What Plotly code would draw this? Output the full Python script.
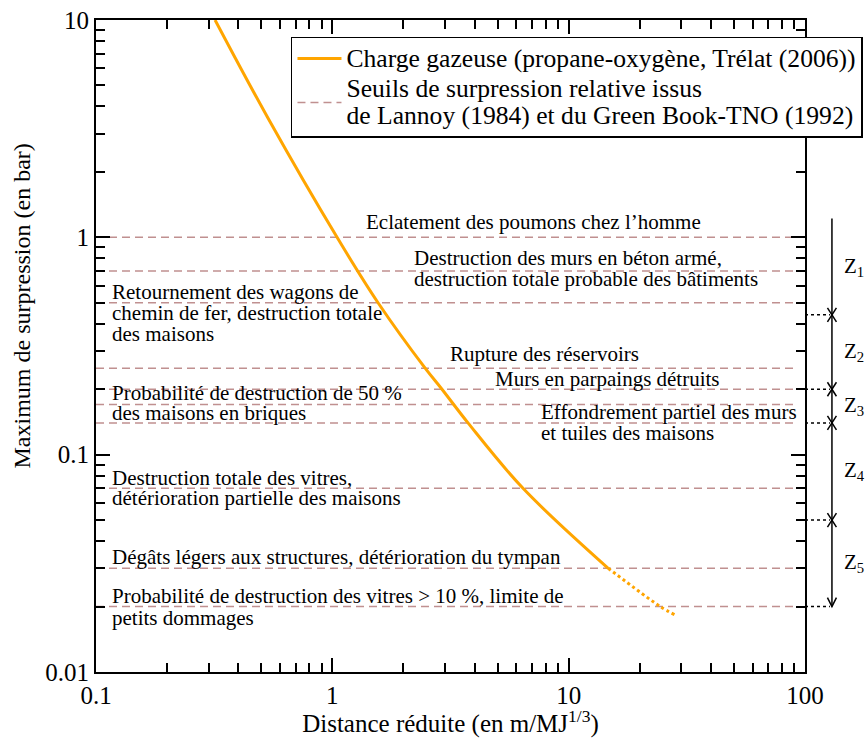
import numpy as np
import plotly.graph_objects as go

# ---------------- data ----------------
curve_x = [0.319, 0.534, 1.047, 1.561, 2.47, 2.91, 3.75, 6.41, 14.7]
curve_y = [10.0, 3.54, 1.0, 0.5, 0.25, 0.2, 0.14, 0.07, 0.03]
extrap_x = [14.7, 24.4, 28.2]
extrap_y = [0.03, 0.02, 0.0183]

thresholds = [1.0, 0.7, 0.5, 0.25, 0.2, 0.17, 0.14, 0.07, 0.03, 0.02]
threshold_x_span = [0.1, 90.0]

zone_bounds = [1.22, 0.44, 0.2, 0.14, 0.05, 0.02]
zone_names = ["Z<sub>1</sub>", "Z<sub>2</sub>", "Z<sub>3</sub>", "Z<sub>4</sub>", "Z<sub>5</sub>"]

x_tickvals = [0.1, 1, 10, 100]
x_ticktext = ["0.1", "1", "10", "100"]
y_tickvals = [0.01, 0.1, 1, 10]
y_ticktext = ["0.01", "0.1", "1", "10"]

legend_curve = "Charge gazeuse (propane-oxygène, Trélat (2006))"
legend_thresholds = ["Seuils de surpression relative issus",
                     "de Lannoy (1984) et du Green Book-TNO (1992)"]

# label lines: (threshold, x anchor value, text, vertical shift in px)
label_lines = [
    (1.0, 1.362, "Eclatement des poumons chez l’homme", 15),
    (0.7, 2.175, "Destruction des murs en béton armé,", 13),
    (0.7, 2.175, "destruction totale probable des bâtiments", -8),
    (0.5, 0.1146, "Retournement des wagons de", 11),
    (0.5, 0.1146, "chemin de fer, destruction totale", -10),
    (0.5, 0.1146, "des maisons", -31),
    (0.25, 3.09, "Rupture des réservoirs", 14),
    (0.2, 4.79, "Murs en parpaings détruits", 10),
    (0.17, 0.1146, "Probabilité de destruction de 50 %", 12),
    (0.17, 0.1146, "des maisons en briques", -8),
    (0.14, 7.49, "Effondrement partiel des murs", 11),
    (0.14, 7.49, "et tuiles des maisons", -10),
    (0.07, 0.1146, "Destruction totale des vitres,", 10),
    (0.07, 0.1146, "détérioration partielle des maisons", -10),
    (0.03, 0.1146, "Dégâts légers aux structures, détérioration du tympan", 11),
    (0.02, 0.1146, "Probabilité de destruction des vitres > 10 %, limite de", 11),
    (0.02, 0.1146, "petits dommages", -11),
]

FONT = "Liberation Serif"
ORANGE = "#ffa500"
DASHCOL = "#c09090"

def big(s):
    return f"<span style='font-size:25.6px'>{s}</span>"

fig = go.Figure()

# threshold lines
hx, hy = [], []
for t in thresholds:
    hx += [threshold_x_span[0], threshold_x_span[1], None]
    hy += [t, t, None]
fig.add_trace(go.Scatter(
    x=hx, y=hy, mode="lines",
    line=dict(color=DASHCOL, width=1.5, dash="8px,5px"),
    name="<br>".join(big(s) for s in legend_thresholds),
    legendrank=2,
))

fig.add_trace(go.Scatter(
    x=curve_x, y=curve_y, mode="lines",
    line=dict(color=ORANGE, width=3, shape="spline", smoothing=1.0),
    name=big(legend_curve),
    legendrank=1,
))
fig.add_trace(go.Scatter(
    x=extrap_x, y=extrap_y, mode="lines",
    line=dict(color=ORANGE, width=3, dash="dot", shape="spline", smoothing=0.8),
    showlegend=False,
))

annotations = []
for t, xv, txt, sh in label_lines:
    annotations.append(dict(
        x=np.log10(xv), y=np.log10(t), xref="x", yref="y",
        text=txt, showarrow=False, xanchor="left", yanchor="middle",
        yshift=sh, font=dict(family=FONT, size=21, color="black"),
    ))

# y-axis title
annotations.append(dict(
    x=-0.104, y=0.561, xref="paper", yref="paper", text="Maximum de surpression (en bar)",
    textangle=-90, showarrow=False, xanchor="center", yanchor="middle",
    font=dict(family=FONT, size=24, color="black"),
))

# zone scale on the right (paper coords)
PX = 1 / 709.0
PY = 1 / 652.0
def yp(v):
    return (np.log10(v) + 2) / 3.0
xa = 1.038
shapes = []
blk = dict(color="black", width=1.5)
shapes.append(dict(type="line", xref="paper", yref="paper",
                   x0=xa, x1=xa, y0=yp(zone_bounds[0]), y1=yp(zone_bounds[-1]), line=blk))
for b in zone_bounds[1:]:
    yb = yp(b)
    shapes.append(dict(type="line", xref="paper", yref="paper", x0=1.0, x1=xa - 2 * PX,
                       y0=yb, y1=yb, line=dict(color="black", width=1.5, dash="dot")))
for b in zone_bounds[1:-1]:
    yb = yp(b)
    shapes.append(dict(type="line", xref="paper", yref="paper",
                       x0=xa - 4.5 * PX, x1=xa + 4.5 * PX, y0=yb + 7 * PY, y1=yb - 7 * PY, line=blk))
    shapes.append(dict(type="line", xref="paper", yref="paper",
                       x0=xa - 4.5 * PX, x1=xa + 4.5 * PX, y0=yb - 7 * PY, y1=yb + 7 * PY, line=blk))
yb = yp(zone_bounds[-1])
shapes.append(dict(type="path", xref="paper", yref="paper",
                   path=f"M {xa - 4.5 * PX},{yb + 9 * PY} L {xa},{yb} L {xa + 4.5 * PX},{yb + 9 * PY}",
                   line=blk))

for i, name in enumerate(zone_names):
    ymid = (yp(zone_bounds[i]) + yp(zone_bounds[i + 1])) / 2
    annotations.append(dict(
        x=1.052, y=ymid, xref="paper", yref="paper", text=name, showarrow=False,
        xanchor="left", yanchor="middle", font=dict(family=FONT, size=21, color="black"),
    ))

minor_x = [k * 10.0 ** e for e in range(-1, 2) for k in range(2, 10)]
minor_y = [k * 10.0 ** e for e in range(-2, 1) for k in range(2, 10)]

axis_common = dict(
    type="log", showgrid=False, zeroline=False, showline=True,
    linecolor="black", linewidth=2, mirror="allticks",
    ticks="inside", ticklen=14, tickwidth=1.5, tickcolor="black",
    tickfont=dict(family=FONT, size=25, color="black"),
)

fig.update_layout(
    width=868, height=738,
    margin=dict(l=96, r=63, t=20, b=66, autoexpand=False),
    paper_bgcolor="white", plot_bgcolor="white",
    font=dict(family=FONT, color="black"),
    xaxis=dict(
        **axis_common, range=[-1, 2], tickvals=x_tickvals, ticktext=x_ticktext,
        minor=dict(ticks="inside", ticklen=9, tickwidth=1.5, tickcolor="black", tickvals=minor_x, showgrid=False),
        title=dict(text="Distance réduite (en m/MJ<sup>1/3</sup>)",
                   font=dict(family=FONT, size=25, color="black"), standoff=4),
    ),
    yaxis=dict(
        **axis_common, range=[-2, 1], tickvals=y_tickvals, ticktext=y_ticktext,
        minor=dict(ticks="inside", ticklen=9, tickwidth=1.5, tickcolor="black", tickvals=minor_y, showgrid=False),
    ),
    legend=dict(
        x=0.275, y=0.974, xanchor="left", yanchor="top",
        bgcolor="white", bordercolor="black", borderwidth=1.5,
        font=dict(family=FONT, size=21, color="black"),
        tracegroupgap=0, itemwidth=44,
    ),
    annotations=annotations,
    shapes=shapes,
    showlegend=True,
)

fig.write_html("out.html")
